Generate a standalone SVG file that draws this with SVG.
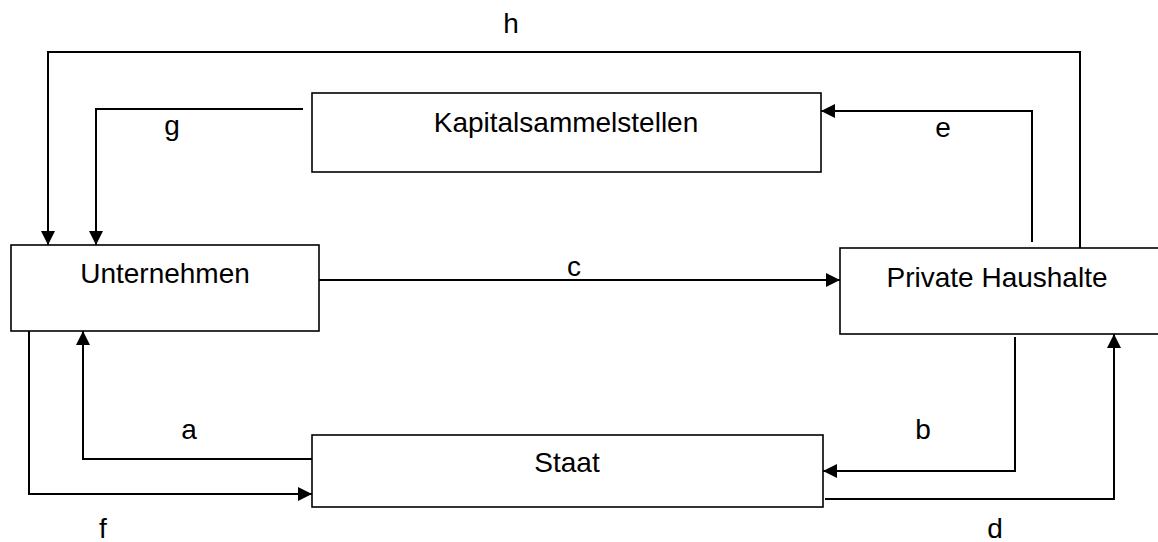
<svg xmlns="http://www.w3.org/2000/svg" width="1158" height="542" viewBox="0 0 1158 542">
<style>
.box{fill:#fff;stroke:#000;stroke-width:1.6}
.ln{fill:none;stroke:#000;stroke-width:2}
text{font-family:"Liberation Sans",Arial,sans-serif;font-size:28px;fill:#000;text-anchor:middle}
</style>
<defs>
<marker id="ah" markerUnits="userSpaceOnUse" markerWidth="14" markerHeight="14" viewBox="0 0 14 14" refX="14" refY="7" orient="auto">
<path d="M0,0 L14,7 L0,14 z" fill="#000"/>
</marker>
</defs>
<rect width="1158" height="542" fill="#fff"/>
<g id="connectors">
<path class="ln" d="M1080,248 V52 H48 V245" marker-end="url(#ah)"/>
<path class="ln" d="M303,109 H96 V245" marker-end="url(#ah)"/>
<path class="ln" d="M1032,242 V111 H821" marker-end="url(#ah)"/>
<path class="ln" d="M319,280 H840" marker-end="url(#ah)"/>
<path class="ln" d="M312,459 H83 V331" marker-end="url(#ah)"/>
<path class="ln" d="M29,331 V494 H312" marker-end="url(#ah)"/>
<path class="ln" d="M1015,337 V471 H823" marker-end="url(#ah)"/>
<path class="ln" d="M825,499 H1114 V334" marker-end="url(#ah)"/>
<text x="511" y="33">h</text>
<text x="172" y="135">g</text>
<text x="943" y="137">e</text>
<text x="574" y="276">c</text>
<text x="189" y="439">a</text>
<text x="923" y="439">b</text>
<text x="103" y="538">f</text>
<text x="995" y="538">d</text>
</g>
<g id="kapitalsammelstellen">
<rect class="box" x="312" y="93" width="509" height="79"/>
<text x="566" y="132">Kapitalsammelstellen</text>
</g>
<g id="unternehmen">
<rect class="box" x="11" y="245" width="308" height="86"/>
<text x="165" y="283">Unternehmen</text>
</g>
<g id="private-haushalte">
<rect class="box" x="840" y="248" width="330" height="86"/>
<text x="997" y="287">Private Haushalte</text>
</g>
<g id="staat">
<rect class="box" x="312" y="435" width="511" height="72"/>
<text x="567" y="472">Staat</text>
</g>
</svg>
